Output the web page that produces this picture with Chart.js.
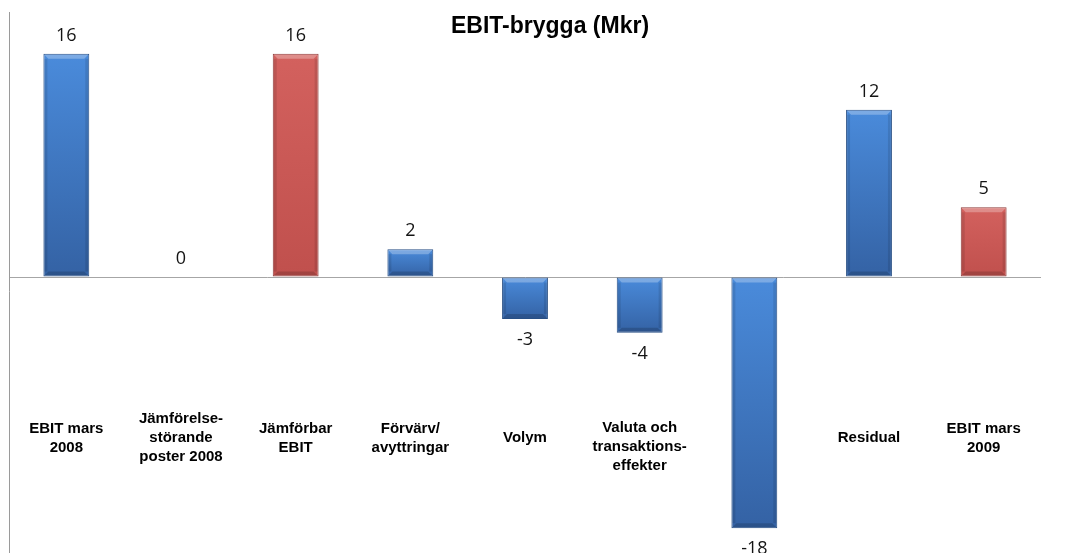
<!DOCTYPE html>
<html>
<head>
<meta charset="utf-8">
<script src="https://cdn.jsdelivr.net/npm/chart.js@4.4.0/dist/chart.umd.min.js"></script>
<style>
    html, body { margin: 0; padding: 0; background: #fff; overflow: hidden; }
    #wrap { width: 1071px; height: 553px; overflow: hidden; }
</style>
</head>
<body>
<div id="wrap"><canvas id="bridgeChart" width="1071" height="570"></canvas></div>
<script>
// EBIT bridge data
const categories = [
    ['EBIT mars', '2008'],
    ['Jämförelse-', 'störande', 'poster 2008'],
    ['Jämförbar', 'EBIT'],
    ['Förvärv/', 'avyttringar'],
    ['Volym'],
    ['Valuta och', 'transaktions-', 'effekter'],
    [''],
    ['Residual'],
    ['EBIT mars', '2009']
];
const values = [16, 0, 16, 2, -3, -4, -18, 12, 5];
const barKind = ['blue', 'blue', 'red', 'blue', 'blue', 'blue', 'blue', 'blue', 'red'];
const chartTitle = 'EBIT-brygga (Mkr)';

const palette = {
    blue: { top: '#4a8bdb', bottom: '#3462a4', border: '#284f85' },
    red:  { top: '#d3615e', bottom: '#c0504d', border: '#8f3c3a' }
};

// Fill each bar with its own vertical gradient
function barFill(c) {
    const p = palette[barKind[c.dataIndex]];
    const chart = c.chart;
    if (!chart.chartArea || !chart.scales.y) return p.bottom;
    const v = values[c.dataIndex];
    const y0 = chart.scales.y.getPixelForValue(Math.max(v, 0));
    const y1 = chart.scales.y.getPixelForValue(Math.min(v, 0));
    if (y1 - y0 < 1) return p.bottom;
    const g = chart.ctx.createLinearGradient(0, y0, 0, y1);
    g.addColorStop(0, p.top);
    g.addColorStop(1, p.bottom);
    return g;
}

// Bevel, value labels, category labels and title
const bridgeDecor = {
    id: 'bridgeDecor',
    afterDatasetsDraw(chart) {
        const ctx = chart.ctx;
        const meta = chart.getDatasetMeta(0);
        ctx.save();
        meta.data.forEach((bar, i) => {
            const top = Math.min(bar.y, bar.base);
            const bottom = Math.max(bar.y, bar.base);
            const left = bar.x - bar.width / 2;
            const right = bar.x + bar.width / 2;
            if (bottom - top > 6) {
                const b = 4;
                // top bevel highlight
                ctx.fillStyle = 'rgba(255,255,255,0.28)';
                ctx.beginPath();
                ctx.moveTo(left + 1, top + 1);
                ctx.lineTo(right - 1, top + 1);
                ctx.lineTo(right - 1 - b, top + 1 + b);
                ctx.lineTo(left + 1 + b, top + 1 + b);
                ctx.closePath();
                ctx.fill();
                // side shading
                ctx.fillStyle = 'rgba(0,0,0,0.10)';
                ctx.fillRect(left + 1, top + 1 + b, 3, bottom - top - 2 - 2 * b);
                ctx.fillRect(right - 4, top + 1 + b, 3, bottom - top - 2 - 2 * b);
                // bottom bevel
                ctx.fillStyle = 'rgba(0,0,0,0.16)';
                ctx.beginPath();
                ctx.moveTo(left + 1, bottom - 1);
                ctx.lineTo(right - 1, bottom - 1);
                ctx.lineTo(right - 1 - b, bottom - 1 - b);
                ctx.lineTo(left + 1 + b, bottom - 1 - b);
                ctx.closePath();
                ctx.fill();
            }

            // value label
            const v = values[i];
            ctx.fillStyle = '#141414';
            ctx.font = '18px "Open Sans", sans-serif';
            ctx.textAlign = 'center';
            ctx.textBaseline = 'middle';
            if (v >= 0) {
                ctx.fillText(String(v), bar.x, top - 18);
            } else {
                ctx.fillText(String(v), bar.x, bottom + 21);
            }
        });

        // category labels
        const xScale = chart.scales.x;
        ctx.fillStyle = '#000';
        ctx.font = 'bold 15px "Liberation Sans", Arial, sans-serif';
        ctx.textAlign = 'center';
        ctx.textBaseline = 'middle';
        const lineH = 19;
        categories.forEach((lines, i) => {
            const x = xScale.getPixelForValue(i);
            const shift = chart.options.plugins.bridgeDecor.labelShift[i] || 0;
            const y0 = 438 + shift - (lines.length - 1) * lineH / 2;
            lines.forEach((t, k) => ctx.fillText(t, x, y0 + k * lineH));
        });

        // title
        ctx.font = 'bold 23px "Liberation Sans", Arial, sans-serif';
        ctx.fillText(chartTitle, 550, 27);
        ctx.restore();
    }
};

new Chart(document.getElementById('bridgeChart'), {
    type: 'bar',
    data: {
        labels: categories,
        datasets: [{
            data: values,
            backgroundColor: barFill,
            borderColor: values.map((v, i) => palette[barKind[i]].border),
            borderWidth: 1,
            borderSkipped: false,
            barPercentage: 0.4,
            categoryPercentage: 1
        }]
    },
    options: {
        responsive: false,
        animation: false,
        layout: { padding: { left: 9, right: 30, top: 12, bottom: 0 } },
        plugins: {
            legend: { display: false },
            tooltip: { enabled: false },
            bridgeDecor: { labelShift: [0, 0, 0, 0, 0, 9, 0, 0, 0] }
        },
        scales: {
            x: { display: false },
            y: {
                min: -21,
                max: 19,
                afterFit(scale) { scale.width = 0; },
                ticks: { display: false, stepSize: 1 },
                grid: {
                    drawTicks: false,
                    color: c => c.tick && c.tick.value === 0 ? '#a6a6a6' : 'rgba(0,0,0,0)',
                    lineWidth: 1
                },
                border: { display: true, color: '#9a9a9a', width: 1 }
            }
        }
    },
    plugins: [bridgeDecor]
});
</script>
</body>
</html>
